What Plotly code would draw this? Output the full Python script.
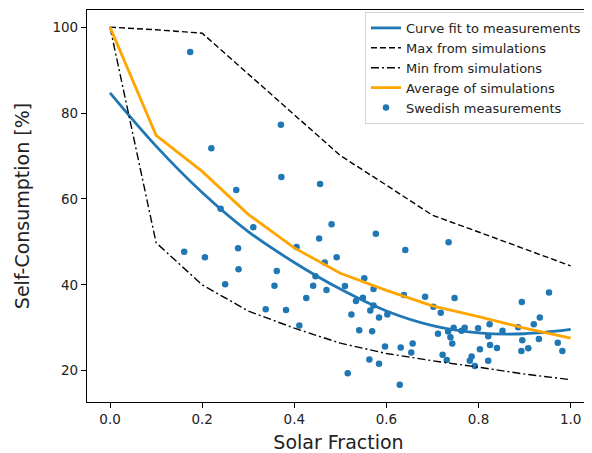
import plotly.graph_objects as go

# ---- data ----
sim_x = [0.0, 0.1, 0.2, 0.3, 0.4, 0.5, 0.6, 0.7, 0.8, 0.9, 1.0]
fit_y = [84.7, 72.3, 61.5, 52.4, 45.2, 39.0, 33.9, 30.5, 28.8, 28.6, 29.6]
max_y = [100, 99.4, 98.6, 89.1, 79.6, 70.1, 63.2, 56.2, 52.3, 48.4, 44.4]
min_y = [100, 49.8, 40.0, 33.9, 29.9, 26.4, 24.0, 22.3, 20.8, 19.2, 17.9]
avg_y = [100, 74.8, 66.4, 56.4, 48.6, 42.7, 38.7, 35.1, 32.6, 29.9, 27.6]

meas_x = [0.174, 0.371, 0.220, 0.274, 0.372, 0.456, 0.240, 0.481, 0.311, 0.454,
          0.405, 0.161, 0.206, 0.278, 0.466, 0.492, 0.279, 0.362, 0.446, 0.250,
          0.357, 0.441, 0.470, 0.426, 0.338, 0.382, 0.411, 0.577, 0.735, 0.641,
          0.552, 0.510, 0.572, 0.953, 0.638, 0.684, 0.748, 0.549, 0.534, 0.894,
          0.572, 0.702, 0.565, 0.718, 0.524, 0.602, 0.584, 0.933, 0.920, 0.824,
          0.886, 0.541, 0.569, 0.746, 0.770, 0.799, 0.852, 0.763, 0.712, 0.734,
          0.739, 0.821, 0.895, 0.931, 0.972, 0.743, 0.657, 0.597, 0.631, 0.825,
          0.840, 0.908, 0.803, 0.893, 0.982, 0.654, 0.722, 0.785, 0.563, 0.731,
          0.781, 0.821, 0.584, 0.792, 0.516, 0.629]
meas_y = [94.2, 77.3, 71.8, 62.1, 65.1, 63.5, 57.7, 54.1, 53.4, 50.8,
          48.8, 47.7, 46.4, 48.5, 45.2, 46.4, 43.6, 43.2, 42.0, 40.1,
          39.8, 39.8, 38.8, 36.9, 34.3, 34.1, 30.5, 51.9, 49.9, 48.1,
          41.5, 39.7, 39.0, 38.2, 37.6, 37.2, 36.9, 37.0, 36.2, 36.0,
          35.2, 34.9, 34.0, 33.5, 33.1, 33.1, 32.4, 32.4, 30.8, 30.8,
          30.1, 29.4, 29.2, 30.0, 30.0, 29.9, 29.3, 29.3, 28.6, 29.1,
          27.8, 28.0, 27.1, 27.4, 26.5, 26.3, 26.3, 25.6, 25.4, 26.0,
          25.3, 25.2, 25.0, 24.6, 24.6, 24.2, 23.7, 23.3, 22.6, 22.5,
          22.3, 22.3, 21.6, 21.1, 19.4, 16.7]

x_ticks = [0.0, 0.2, 0.4, 0.6, 0.8, 1.0]
x_tick_labels = ["0.0", "0.2", "0.4", "0.6", "0.8", "1.0"]
y_ticks = [20, 40, 60, 80, 100]

BLUE = "#1f77b4"
ORANGE = "#FFA500"
FONT = "DejaVu Sans"

fig = go.Figure()
fig.add_trace(go.Scatter(x=meas_x, y=meas_y, mode="markers", name="Swedish measurements",
                         marker=dict(color=BLUE, size=6.5, line=dict(width=0)), legendrank=5))
fig.add_trace(go.Scatter(x=sim_x, y=fit_y, mode="lines", name="Curve fit to measurements",
                         line=dict(color=BLUE, width=2.8, shape="spline"), legendrank=1))
fig.add_trace(go.Scatter(x=sim_x, y=max_y, mode="lines", name="Max from simulations",
                         line=dict(color="black", width=1.4, dash="6px,3px"), legendrank=2))
fig.add_trace(go.Scatter(x=sim_x, y=min_y, mode="lines", name="Min from simulations",
                         line=dict(color="black", width=1.4, dash="8px,3px,2px,3px"), legendrank=3))
fig.add_trace(go.Scatter(x=sim_x, y=avg_y, mode="lines", name="Average of simulations",
                         line=dict(color=ORANGE, width=2.8), legendrank=4))

axis_common = dict(showline=True, linecolor="black", linewidth=1.2, mirror=True,
                   ticks="outside", ticklen=5, tickwidth=1.2, tickcolor="black",
                   showgrid=False, zeroline=False,
                   tickfont=dict(family=FONT, size=13.5, color="#222"))

fig.update_xaxes(range=[-0.05, 1.042], tickvals=x_ticks, ticktext=x_tick_labels,
                 title=dict(text="Solar Fraction", font=dict(family=FONT, size=19, color="#222"),
                            standoff=10),
                 **axis_common)
fig.update_yaxes(range=[12.7, 104.0], tickvals=y_ticks,
                 title=dict(text="Self-Consumption [%]", font=dict(family=FONT, size=19, color="#222"),
                            standoff=17),
                 **axis_common)

# the page body has an 8px margin, so the figure is sized/offset to compensate
fig.update_layout(
    width=584, height=445,
    margin=dict(l=79, r=2, t=2, b=51, autoexpand=False),
    paper_bgcolor="white", plot_bgcolor="white",
    font=dict(family=FONT, color="#222"),
    showlegend=True,
    legend=dict(x=0.994, y=0.995, xanchor="right", yanchor="top",
                bgcolor="rgba(255,255,255,0.85)", bordercolor="#d5d5d5", borderwidth=1,
                font=dict(family=FONT, size=13, color="#222"),
                tracegroupgap=0),
)

fig.write_html("out.html")
